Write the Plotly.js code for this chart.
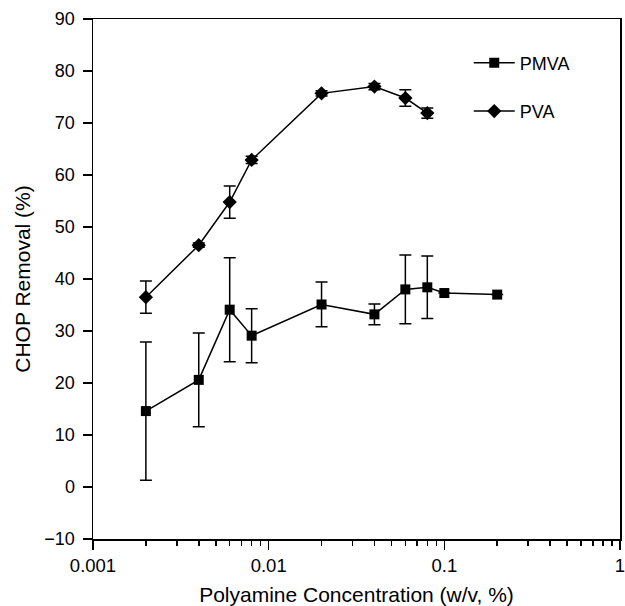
<!DOCTYPE html>
<html>
<head>
<meta charset="utf-8">
<script src="https://cdn.plot.ly/plotly-3.0.1.min.js"></script>
<style>html,body{margin:0;padding:0;background:#fff;}#chart{width:625px;height:606px;}</style>
</head>
<body>
<div id="chart"></div>
<script>
// Data
const pmvaConc = [0.002, 0.004, 0.006, 0.008, 0.02, 0.04, 0.06, 0.08, 0.1, 0.2];
const pmvaRemoval = [14.6, 20.6, 34.1, 29.1, 35.1, 33.2, 38.0, 38.4, 37.3, 37.0];
const pmvaErr = [13.3, 9.0, 10.0, 5.2, 4.3, 2.0, 6.6, 6.0, 0, 0];

const pvaConc = [0.002, 0.004, 0.006, 0.008, 0.02, 0.04, 0.06, 0.08];
const pvaRemoval = [36.5, 46.5, 54.8, 62.9, 75.7, 77.0, 74.8, 71.9];
const pvaErr = [3.1, 0.4, 3.1, 0.7, 0.5, 0.6, 1.6, 1.0];

const xTickVals = [0.001, 0.01, 0.1, 1];
const xTickText = ['0.001', '0.01', '0.1', '1'];
const yTickVals = [-10, 0, 10, 20, 30, 40, 50, 60, 70, 80, 90];
const yTickText = ['\u221210', '0', '10', '20', '30', '40', '50', '60', '70', '80', '90'];

const FONT = 'Liberation Sans, Arial, sans-serif';

const traces = [
  {
    x: pmvaConc, y: pmvaRemoval, name: 'PMVA', type: 'scatter', mode: 'lines+markers',
    legendgroup: 'a',
    line: {color: '#000', width: 1.5},
    marker: {symbol: 'square', size: 10, color: '#000'},
    error_y: {type: 'data', array: pmvaErr, visible: true, color: '#000', thickness: 1.5, width: 6}
  },
  {
    x: pvaConc, y: pvaRemoval, name: 'PVA', type: 'scatter', mode: 'lines+markers',
    legendgroup: 'b',
    line: {color: '#000', width: 1.5},
    marker: {symbol: 'diamond', size: 11, color: '#000'},
    error_y: {type: 'data', array: pvaErr, visible: true, color: '#000', thickness: 1.5, width: 6}
  }
];

const layout = {
  width: 625, height: 606,
  margin: {l: 93, r: 5, t: 19, b: 67},
  paper_bgcolor: '#fff', plot_bgcolor: '#fff',
  font: {family: FONT, size: 16, color: '#000'},
  showlegend: true,
  legend: {
    x: 0.713, y: 0.951, xanchor: 'left', yanchor: 'top',
    bgcolor: 'rgba(0,0,0,0)', font: {family: FONT, size: 18, color: '#000'},
    traceorder: 'grouped', tracegroupgap: 22, itemwidth: 41
  },
  xaxis: {
    type: 'log', range: [-3, 0],
    tickmode: 'array', tickvals: xTickVals, ticktext: xTickText,
    ticks: 'outside', ticklen: 9, tickwidth: 1.5, tickcolor: '#000',
    ticklabeloverflow: 'allow',
    minor: {tickmode: 'linear', dtick: 'D1', ticks: 'outside', ticklen: 5, tickwidth: 1.5, tickcolor: '#000', showgrid: false},
    showline: true, linecolor: '#000', linewidth: 1.5, mirror: true,
    showgrid: false, zeroline: false,
    tickfont: {family: FONT, size: 18.5, color: '#000'},
    title: {text: 'Polyamine Concentration (w/v, %)', font: {family: FONT, size: 21, color: '#000'}, standoff: 13}
  },
  yaxis: {
    range: [-10, 90],
    tickmode: 'array', tickvals: yTickVals, ticktext: yTickText,
    ticks: 'outside', ticklen: 9, tickwidth: 1.5, tickcolor: '#000',
    ticklabelstandoff: 4,
    showline: true, linecolor: '#000', linewidth: 1.5, mirror: true,
    showgrid: false, zeroline: false,
    tickfont: {family: FONT, size: 18, color: '#000'},
    title: {text: 'CHOP Removal (%)', font: {family: FONT, size: 21, color: '#000'}, standoff: 8}
  }
};

Plotly.newPlot('chart', traces, layout, {displayModeBar: false, staticPlot: true});
</script>
</body>
</html>
